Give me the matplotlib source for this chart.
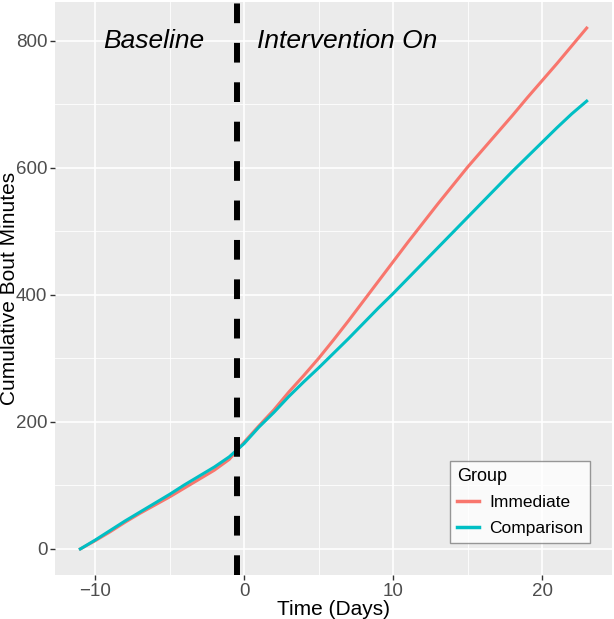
import matplotlib.pyplot as plt
import numpy as np

# days and cumulative bout minutes
days = np.arange(-11, 24)
immediate = [0, 13, 27, 42, 56, 69, 82, 96, 110, 124, 141,
             168, 194, 219, 247, 273, 300, 329, 359, 390, 421, 452,
             483, 513, 543, 572, 601, 628, 655, 682, 710, 737, 764, 792, 820]
comparison = [0, 14, 29, 44, 58, 72, 86, 101, 115, 129, 145,
              166, 192, 215, 240, 263, 285, 308, 331, 355, 379, 402,
              426, 450, 474, 498, 522, 546, 570, 594, 617, 640, 663, 685, 705]
group_names = ["Immediate", "Comparison"]
group_colors = ["#F8766D", "#00BFC4"]
xticks = [-10, 0, 10, 20]
yticks = [0, 200, 400, 600, 800]
switch_day = -0.5

plt.rcParams['font.family'] = ['Liberation Sans', 'DejaVu Sans']

fig = plt.figure(figsize=(6.14, 6.19), dpi=100)
ax = fig.add_axes([55/614, 44/619, 557/614, 573/619])
ax.set_facecolor("#EBEBEB")

# grid (ggplot style)
ax.set_xticks(xticks)
ax.set_yticks(yticks)
ax.set_xticks([-5, 5, 15], minor=True)
ax.set_yticks([100, 300, 500, 700], minor=True)
ax.grid(which="major", color="white", lw=1.2)
ax.grid(which="minor", color="white", lw=0.6)
ax.set_axisbelow(True)
for s in ax.spines.values():
    s.set_visible(False)

ax.plot(days, immediate, color=group_colors[0], lw=2.2, label=group_names[0])
ax.plot(days, comparison, color=group_colors[1], lw=2.2, label=group_names[1])

vl = ax.axvline(switch_day, color="black", lw=4.3)
vl.set_dashes((3.3, 3.3))

ax.text(-6.1, 800, "Baseline", style="italic", fontsize=19, ha="center", va="center")
ax.text(6.9, 800, "Intervention On", style="italic", fontsize=19, ha="center", va="center")

ax.set_xlim(-12.7, 24.7)
ax.set_ylim(-41, 861)
ax.tick_params(which="major", length=3.5, width=1, color="#333333",
               labelcolor="#4D4D4D", labelsize=13.5, pad=2)
ax.tick_params(which="minor", length=0)
ax.set_xlabel("Time (Days)", fontsize=15, labelpad=0)
ax.set_ylabel("Cumulative Bout Minutes", fontsize=15, labelpad=-2)

leg = ax.legend(title="Group", loc="lower left", bbox_to_anchor=(0.709, 0.056),
                borderaxespad=0, fontsize=12.5, title_fontsize=13, frameon=True,
                fancybox=False, edgecolor="#7F7F7F", handlelength=1.25,
                borderpad=0.4, labelspacing=0.6, handletextpad=0.6)
leg.get_frame().set_linewidth(1.0)
leg._legend_box.align = "left"
for line in leg.get_lines():
    line.set_linewidth(2.5)

fig.savefig("out.png", dpi=100)
